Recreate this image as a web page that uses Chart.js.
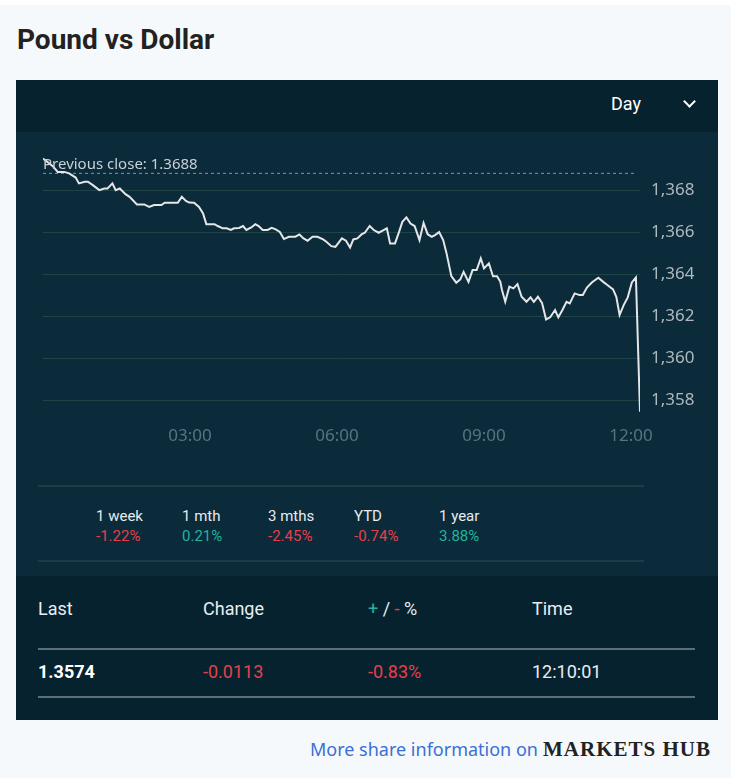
<!DOCTYPE html>
<html>
<head>
<meta charset="utf-8">
<title>Pound vs Dollar</title>
<script src="https://cdn.jsdelivr.net/npm/chart.js@4.4.0/dist/chart.umd.min.js"></script>
<style>
  html, body { margin: 0; padding: 0; background: #ffffff; }
  body { width: 732px; height: 782px; overflow: hidden; position: relative; font-family: "Noto Sans", sans-serif; }
  .page { position: absolute; left: 0; top: 5px; width: 731px; height: 773px; background: #f5f9fb; }
  .title { position: absolute; left: 17px; top: 23px; font: bold 28px/34px Roboto, sans-serif; color: #222; margin: 0; }
  .panel { position: absolute; left: 16px; top: 80px; width: 702px; height: 640px; background: #06222f; }
  .header { position: absolute; left: 16px; top: 80px; width: 702px; height: 52px; background: #06222f; }
  .day { position: absolute; left: 611px; top: 93px; font: 18px/22px Roboto, sans-serif; color: #fff; }
  .chev { position: absolute; left: 685px; top: 97px; width: 7px; height: 7px; border-right: 2.5px solid #fff; border-bottom: 2.5px solid #fff; transform: rotate(45deg); }
  .chartbox { position: absolute; left: 16px; top: 132px; width: 702px; height: 444px; background: #0b2a3a; }
  #chart { position: absolute; left: 16px; top: 132px; }
  .prev { position: absolute; left: 43px; top: 153px; font: 15px/20px "Noto Sans", sans-serif; color: #c9d1d6; }
  .rule { position: absolute; left: 38px; width: 606px; height: 2px; background: #1d3c4a; }
  .stat { position: absolute; top: 506px; font: 15px/20px Roboto, sans-serif; color: #e6ecef; }
  .stat span { display: block; }
  .neg { color: #e5404a; }
  .pos { color: #22b59b; }
  .th, .td { position: absolute; font: 18px/22px Roboto, sans-serif; color: #e9eef0; }
  .th { top: 598px; }
  .td { top: 661px; }
  .td.neg { color: #e5404a; }
  .line2 { position: absolute; left: 38px; width: 657px; height: 2px; background: #5c6f79; }
  .more { position: absolute; left: 310px; top: 737px; font: 18px/25px "Noto Sans", sans-serif; color: #3b6fd6; }
  .hub { position: absolute; left: 543px; top: 736px; font: bold 21px/27px "Liberation Serif", serif; letter-spacing: 1px; color: #222; }
</style>
</head>
<body>
<div class="page"></div>
<h1 class="title">Pound vs Dollar</h1>
<div class="panel"></div>
<div class="header"></div>
<div class="day">Day</div>
<div class="chev"></div>
<div class="chartbox"></div>
<canvas id="chart" width="702" height="318"></canvas>
<div class="prev">Previous close: 1.3688</div>

<div class="rule" style="top:485px"></div>
<div class="stat" style="left:96px"><span>1 week</span><span class="neg">-1.22%</span></div>
<div class="stat" style="left:182px"><span>1 mth</span><span class="pos">0.21%</span></div>
<div class="stat" style="left:268px"><span>3 mths</span><span class="neg">-2.45%</span></div>
<div class="stat" style="left:354px"><span>YTD</span><span class="neg">-0.74%</span></div>
<div class="stat" style="left:439px"><span>1 year</span><span class="pos">3.88%</span></div>
<div class="rule" style="top:560px"></div>

<div class="th" style="left:38px">Last</div>
<div class="th" style="left:203px">Change</div>
<div class="th" style="left:368px"><span class="pos">+</span> / <span class="neg">-</span> %</div>
<div class="th" style="left:532px">Time</div>
<div class="line2" style="top:648px"></div>
<div class="td" style="left:38px; font-weight:bold; color:#fff">1.3574</div>
<div class="td neg" style="left:203px">-0.0113</div>
<div class="td neg" style="left:368px">-0.83%</div>
<div class="td" style="left:532px">12:10:01</div>
<div class="line2" style="top:696px"></div>

<div class="more">More share information on</div>
<div class="hub">MARKETS HUB</div>

<script>
// minutes since 00:00
const times = [0, 12, 18, 26, 32, 40, 44, 51, 55, 61, 69, 75, 79, 85, 89, 94, 101, 106, 115, 124,
  130, 136, 145, 149, 165, 170, 175, 179, 185, 191, 196, 200, 210, 214, 220, 225, 230, 234, 240, 245,
  249, 255, 260, 264, 269, 275, 280, 285, 290, 295, 301, 309, 314, 319, 324, 330, 336, 343, 347, 353,
  358, 366, 371, 376, 380, 385, 390, 394, 400, 405, 411, 417, 421, 425, 431, 436, 440, 445, 450, 455,
  461, 466, 471, 476, 480, 485, 490, 494, 500, 506, 511, 515, 521, 526, 531, 536, 540, 546, 551, 556,
  560, 562, 566, 571, 576, 581, 586, 592, 597, 601, 606, 611, 616, 621, 627, 631, 636, 641, 645, 651,
  657, 661, 666, 672, 680, 686, 691, 698, 702, 706, 711, 716, 721, 726, 731];
const rates = [1.36951, 1.36914, 1.36887, 1.36887, 1.36880, 1.36860, 1.36832, 1.36840, 1.36840, 1.36824,
  1.36800, 1.36808, 1.36808, 1.36832, 1.36800, 1.36808, 1.36781, 1.36768, 1.36732, 1.36732,
  1.36720, 1.36729, 1.36729, 1.36740, 1.36740, 1.36768, 1.36749, 1.36741, 1.36740, 1.36720,
  1.36689, 1.36638, 1.36638, 1.36629, 1.36618, 1.36618, 1.36610, 1.36618, 1.36620, 1.36629,
  1.36610, 1.36622, 1.36638, 1.36629, 1.36610, 1.36610, 1.36620, 1.36613, 1.36601, 1.36567,
  1.36578, 1.36578, 1.36589, 1.36570, 1.36559, 1.36578, 1.36578, 1.36565, 1.36554, 1.36533,
  1.36530, 1.36570, 1.36559, 1.36527, 1.36565, 1.36570, 1.36589, 1.36597, 1.36629, 1.36610,
  1.36597, 1.36610, 1.36618, 1.36546, 1.36546, 1.36601, 1.36649, 1.36670, 1.36641, 1.36629,
  1.36562, 1.36644, 1.36590, 1.36578, 1.36586, 1.36600, 1.36562, 1.36501, 1.36390, 1.36359,
  1.36375, 1.36411, 1.36363, 1.36419, 1.36419, 1.36475, 1.36427, 1.36451, 1.36390, 1.36390,
  1.36363, 1.36324, 1.36268, 1.36340, 1.36332, 1.36352, 1.36292, 1.36268, 1.36289, 1.36268,
  1.36292, 1.36263, 1.36184, 1.36194, 1.36229, 1.36194, 1.36229, 1.36268, 1.36260, 1.36308,
  1.36300, 1.36300, 1.36336, 1.36360, 1.36383, 1.36363, 1.36348, 1.36327, 1.36292, 1.36205,
  1.36252, 1.36289, 1.36360, 1.36384, 1.35744];
const previousClose = 1.3688;
const yTicks = [1.358, 1.360, 1.362, 1.364, 1.366, 1.368];
const xTicks = [180, 360, 540, 720];
const xTickLabels = ['03:00', '06:00', '09:00', '12:00'];

const points = times.map((t, i) => ({ x: t, y: rates[i] }));

const ctx = document.getElementById('chart').getContext('2d');
const chart = new Chart(ctx, {
    type: 'line',
    data: {
        datasets: [{
            data: points,
            borderColor: '#e4e6e7',
            borderWidth: 2,
            pointRadius: 0,
            tension: 0,
            fill: false
        }, {
            // previous close marker
            data: [{ x: 0, y: previousClose }, { x: 726, y: previousClose }],
            borderColor: '#8796a0',
            borderWidth: 1,
            borderDash: [3, 3],
            pointRadius: 0,
            fill: false
        }]
    },
    options: {
        responsive: false,
        animation: false,
        devicePixelRatio: 1,
        layout: { padding: { left: 27, top: 0, right: 0, bottom: 0 } },
        plugins: { legend: { display: false }, tooltip: { enabled: false } },
        scales: {
            x: {
                type: 'linear',
                min: 0,
                max: 731,
                grid: { display: false, drawTicks: false },
                border: { display: false },
                afterBuildTicks: function (scale) {
                    scale.ticks = xTicks.map(v => ({ value: v }));
                },
                afterFit: function (scale) { scale.height = 29; },
                ticks: {
                    color: '#5a7381',
                    font: { family: 'Noto Sans', size: 17 },
                    padding: 5,
                    maxRotation: 0,
                    callback: function (v) { return xTickLabels[xTicks.indexOf(v)]; }
                }
            },
            y: {
                position: 'right',
                min: 1.357,
                max: 1.36976,
                grid: { color: '#1f4448', lineWidth: 1, drawTicks: false },
                border: { display: false },
                afterBuildTicks: function (scale) {
                    scale.ticks = yTicks.map(v => ({ value: v }));
                },
                afterFit: function (scale) { scale.width = 78; },
                ticks: {
                    color: '#aeb8be',
                    font: { family: 'Noto Sans', size: 17 },
                    padding: 11,
                    callback: function (v) { return v.toFixed(3).replace('.', ','); }
                }
            }
        }
    }
});
</script>
</body>
</html>
